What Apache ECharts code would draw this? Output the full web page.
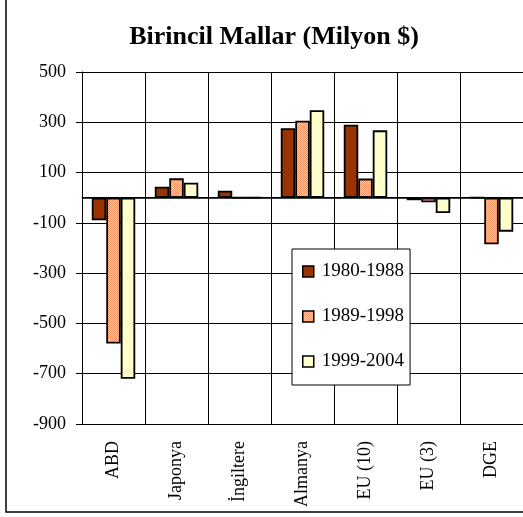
<!DOCTYPE html>
<html>
<head>
<meta charset="utf-8">
<script src="https://cdn.jsdelivr.net/npm/echarts@6/dist/echarts.min.js"></script>
<style>
  html, body { margin: 0; padding: 0; background: #fff; }
  #chart { width: 523px; height: 517px; }
</style>
</head>
<body>
<div id="chart"></div>
<script>
// Primary goods trade balance by country group, million USD
const categories = ['ABD', 'Japonya', 'İngiltere', 'Almanya', 'EU (10)', 'EU (3)', 'DGE'];
const periods = ['1980-1988', '1989-1998', '1999-2004'];
const values1980 = [-90, 44, 28, 276, 290, -10, 0];
const values1989 = [-580, 77, 0, 306, 76, -18, -185];
const values1999 = [-720, 60, 0, 348, 268, -61, -135];

const serif = '"Liberation Serif", "Times New Roman", serif';

// fine checkered fill for the middle period
function checkerPattern() {
  const c = document.createElement('canvas');
  c.width = 2; c.height = 2;
  const g = c.getContext('2d');
  g.fillStyle = '#FFD3B6';
  g.fillRect(0, 0, 2, 2);
  g.fillStyle = '#FF8F5C';
  g.fillRect(0, 0, 1, 1);
  g.fillRect(1, 1, 1, 1);
  return { image: c, repeat: 'repeat' };
}

const chart = echarts.init(document.getElementById('chart'), null, { renderer: 'canvas' });

const barStyle = (color) => ({ color: color, borderColor: '#000', borderWidth: 1.8 });

chart.setOption({
  backgroundColor: '#fff',
  animation: false,
  title: {
    text: 'Birincil Mallar (Milyon $)',
    left: 269, top: 19, textAlign: 'center',
    textStyle: { fontFamily: serif, fontSize: 26, fontWeight: 'bold', color: '#000' }
  },
  legend: {
    orient: 'vertical',
    left: 292, top: 249,
    padding: [13, 6, 14, 10],
    itemGap: 26,
    itemWidth: 11, itemHeight: 11,
    backgroundColor: '#fff',
    borderColor: '#000', borderWidth: 1,
    icon: 'rect',
    itemStyle: { borderColor: '#000', borderWidth: 1.5 },
    textStyle: { fontFamily: serif, fontSize: 19, color: '#000', padding: [0, 0, 0, 3] },
    data: periods
  },
  grid: { left: 82, top: 72, right: -5, bottom: 93, containLabel: false },
  xAxis: {
    type: 'category',
    data: categories,
    axisLine: { show: true, lineStyle: { color: '#000', width: 1 } },
    axisTick: { show: false },
    splitLine: { show: true, interval: 0, lineStyle: { color: '#000', width: 1 } },
    axisLabel: {
      rotate: 90, margin: 17, interval: 0,
      fontFamily: serif, fontSize: 18, color: '#000'
    }
  },
  yAxis: {
    type: 'value',
    min: -900, max: 500, interval: 200,
    axisLine: { show: true, lineStyle: { color: '#000', width: 1 } },
    axisTick: { show: true, length: 6, lineStyle: { color: '#000' } },
    splitLine: { show: true, lineStyle: { color: '#000', width: 1 } },
    axisLabel: { margin: 16, fontFamily: serif, fontSize: 18, color: '#000' }
  },
  series: [
    {
      name: periods[0], type: 'bar', data: values1980,
      barGap: '0%', barCategoryGap: '31%',
      itemStyle: barStyle('#993300'),
      markLine: {
        silent: true, symbol: 'none', label: { show: false },
        lineStyle: { color: '#000', width: 1.5, type: 'solid' },
        data: [{ yAxis: 0 }]
      }
    },
    {
      name: periods[1], type: 'bar', data: values1989,
      barGap: '0%', barCategoryGap: '31%',
      itemStyle: barStyle(checkerPattern())
    },
    {
      name: periods[2], type: 'bar', data: values1999,
      barGap: '0%', barCategoryGap: '31%',
      itemStyle: barStyle('#FFFFCC')
    }
  ],
  graphic: [
    {
      type: 'rect', silent: true, z: 100,
      shape: { x: 6, y: -10, width: 600, height: 522 },
      style: { fill: 'none', stroke: '#000', lineWidth: 1.5 }
    }
  ]
});
</script>
</body>
</html>
